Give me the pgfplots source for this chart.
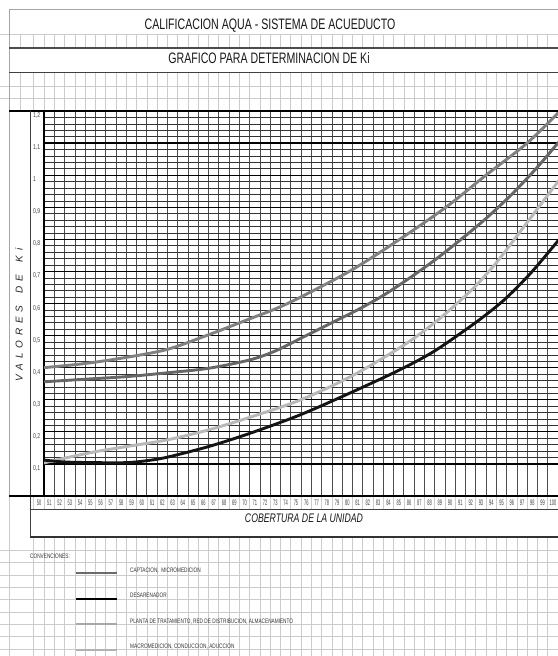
\documentclass[border=0pt]{standalone}
\usepackage{fontspec}
\setmainfont{Liberation Sans}
\newfontfamily\narrowfont{Liberation Sans}[FakeStretch=0.70]
\newfontfamily\legfont{Liberation Sans}[FakeStretch=0.73]
\newfontfamily\tickxfont{Liberation Sans}[FakeStretch=0.50]
\usepackage{pgfplots}
\pgfplotsset{compat=1.18}
\definecolor{bgline}{gray}{0.80}
\definecolor{cA}{gray}{0.50}
\definecolor{cB}{gray}{0.40}
\definecolor{cC}{gray}{0.72}
\definecolor{cD}{gray}{0.08}
\definecolor{lA}{gray}{0.42}
\definecolor{lC}{gray}{0.66}
\definecolor{lE}{gray}{0.70}
\begin{document}
\begin{tikzpicture}
\useasboundingbox (0,0) rectangle (558bp,656bp);
\fill[white] (0,0) rectangle (558bp,656bp);
\begin{scope}[yshift=656bp, x=1bp, y=-1bp]
  % spreadsheet background grid
  \foreach \k in {-1,...,50} {
    \draw[bgline, line width=0.6bp] ({44+10.28*\k},34) -- ({44+10.28*\k},656);
  }
  \draw[bgline, line width=0.6bp] (9,34) -- (9,656);
  \draw[bgline, line width=0.6bp] (20,34) -- (20,111);
  \foreach \yy in {34,86,98,550,562.5,575,587,599,612,624,636,649} {
    \draw[bgline, line width=0.6bp] (0,\yy) -- (558,\yy);
  }
  % merged cells
  \fill[white] (9.4,48) rectangle (558,73);
  \fill[white] (9.4,111) rectangle (44,496);
  \fill[white] (30,510) rectangle (558,537);
\end{scope}

\begin{axis}[
  at={(44bp,160bp)}, anchor=south west,
  scale only axis, width=516bp, height=385bp,
  xmin=50, xmax=100.2, ymin=0, ymax=1.2,
  xtick={50,...,100},
  ytick={0.1,0.2,0.3,0.4,0.5,0.6,0.7,0.8,0.9,1.0,1.1,1.2},
  minor y tick num=4,
  major tick length=0pt, minor tick length=0pt,
  xmajorgrids, ymajorgrids, yminorgrids,
  major x grid style={gray!60!black, line width=0.6bp},
  major y grid style={black, line width=1.2bp},
  minor y grid style={black!80, line width=0.6bp},
  axis line style={black, line width=1.4bp},
  axis background/.style={fill=white},
  /pgf/number format/.cd, use comma, assume math mode=true,
  /pgfplots/.cd,
  xticklabel style={font=\tickxfont\fontsize{8}{9}\selectfont, anchor=center, xshift=-5bp, yshift=-7bp, inner sep=0pt, text=black!75},
  yticklabel style={font=\legfont\fontsize{7}{8}\selectfont, anchor=north west, xshift=-11bp, yshift=-1.5bp, inner sep=0pt, text=black!75},
  legend style={at={(0.0601,-0.1805)}, anchor=north west, draw=none, fill=none, inner sep=0pt,
    font=\legfont\fontsize{6.5}{7}\selectfont, text=black!80, row sep=15.5bp,
    /tikz/every odd column/.append style={column sep=10bp}},
  legend cell align=left,
  legend image code/.code={\draw[#1] (0bp,-2.5bp) -- (41bp,-2.5bp);},
]
% top curve
\addplot[cA, line width=2.9bp, smooth, forget plot] coordinates {
 (50,0.400) (54,0.413) (58,0.432) (62,0.457) (65.8,0.500) (70,0.552) (73.7,0.600)
 (79.7,0.700) (84.6,0.800) (89.1,0.900) (93.0,1.000) (97.0,1.100) (100.2,1.200)};
% second curve
\addplot[cB, line width=2.9bp, smooth, forget plot] coordinates {
 (50,0.356) (54,0.364) (58,0.372) (62,0.384) (66,0.398) (70,0.424) (72.5,0.452)
 (75.5,0.500) (78,0.540) (80.5,0.580) (83,0.625) (85.5,0.678) (88,0.735)
 (90.5,0.798) (93,0.865) (95.5,0.940) (98,1.025) (100.2,1.108)};
% third curve
\addplot[cC, line width=2.9bp, smooth, forget plot] coordinates {
 (50,0.103) (52,0.118) (55,0.138) (58,0.154) (62,0.175) (66,0.206) (70,0.245)
 (75,0.300) (80,0.375) (85,0.470) (88,0.540) (90,0.595) (92,0.655) (94,0.727)
 (96,0.810) (98,0.895) (100.2,0.988)};
% black curve
\addplot[cD, line width=2.9bp, smooth, forget plot] coordinates {
 (50,0.112) (52,0.106) (55,0.104) (58,0.104) (60,0.110) (62,0.121) (66,0.154)
 (70,0.195) (74.85,0.252) (79.7,0.320) (84.6,0.393) (87.9,0.450) (91.1,0.520)
 (93,0.565) (95,0.618) (97.5,0.700) (100.2,0.803)};
\addlegendimage{lA, line width=2bp}
\addlegendentry{CAPTACION,\ \ MICROMEDICION}
\addlegendimage{black, line width=2bp}
\addlegendentry{DESARENADOR}
\addlegendimage{lC, line width=2bp}
\addlegendentry{PLANTA DE TRATAMIENTO, RED DE DISTRIBUCION, ALMACENAMIENTO}
\addlegendimage{lE, line width=2bp}
\addlegendentry{MACROMEDICION, CONDUCCION, ADUCCION}
\end{axis}

\begin{scope}[yshift=656bp, x=1bp, y=-1bp]
  % frame lines
  \draw[gray!70, line width=0.8bp] (9,9) -- (558,9);
  \draw[gray!70, line width=0.8bp] (9,9) -- (9,496);
  \draw[black!70, line width=1.6bp] (9,48) -- (558,48);
  \draw[black!75, line width=1bp] (9,73) -- (558,73);
  \draw[black, line width=1.5bp] (9,111) -- (558,111);
  \draw[black!75, line width=1bp] (30,111) -- (30,537);
  \draw[black, line width=1.5bp] (9,496) -- (558,496);
  \draw[black!75, line width=0.9bp] (30,509.5) -- (558,509.5);
  \draw[black!80, line width=1.3bp] (30,537) -- (558,537);
  % texts
  \node[font=\narrowfont\fontsize{15.2}{17}\selectfont, inner sep=0pt, text=black!90] at (270,25.5) {CALIFICACION AQUA - SISTEMA DE ACUEDUCTO};
  \node[font=\narrowfont\fontsize{15.2}{17}\selectfont, inner sep=0pt, text=black!90] at (269,58) {GRAFICO PARA DETERMINACION DE Ki};
  \node[font=\itshape\fontsize{10}{12}\selectfont, rotate=90, inner sep=0pt, text=black!85] at (19,315)
    {V\kern4.8bp A\kern4.8bp L\kern4.8bp O\kern4.8bp R\kern4.8bp E\kern4.8bp S\kern12.4bp D\kern4.8bp E\kern12.4bp K\kern4.8bp i};
  \node[font=\narrowfont\itshape\fontsize{12.5}{14}\selectfont, inner sep=0pt, text=black!90] at (304,518.5) {COBERTURA DE LA UNIDAD};
  \node[font=\legfont\fontsize{6.5}{7}\selectfont, anchor=west, inner sep=0pt, text=black!80] at (30,556) {CONVENCIONES:};
\end{scope}
\end{tikzpicture}
\end{document}
